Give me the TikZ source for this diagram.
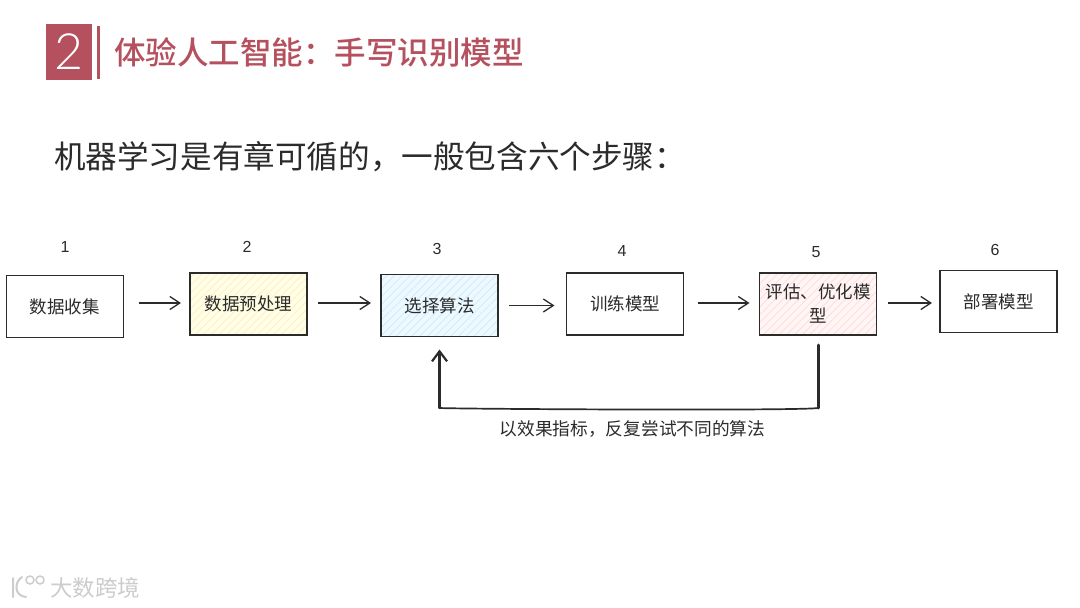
\documentclass[tikz,border=0pt]{standalone}
\usepackage{fontspec}
\setmainfont{Noto Sans CJK SC}
\newfontfamily\numfont{Liberation Sans}
\newfontfamily\chapterfont{Lato Light}
\newfontfamily\titlefont{Noto Sans CJK SC Medium}
\usetikzlibrary{positioning,arrows.meta,patterns.meta}
\definecolor{titlered}{HTML}{B5505F}
\definecolor{inkgrey}{HTML}{2B2B2B}

\begin{document}
\begin{tikzpicture}[x=1pt,y=-1pt,
  block/.style={draw=inkgrey,rectangle,line width=1.3pt,outer sep=0pt,minimum width=117pt,minimum height=62pt,inner sep=0pt,align=center,text=inkgrey,font=\fontsize{17.5}{24}\selectfont},
  hatched/.style n args={2}{line width=1.7pt,preaction={fill=#1},pattern={Lines[angle=45,distance=5.5pt,line width=.7pt]},pattern color=#2},
  steplabel/.style={text=inkgrey,inner sep=0pt,font=\numfont\fontsize{16}{16}\selectfont},
  arrow/.style={draw=inkgrey,line width=1.3pt,-{Straight Barb[length=10pt,width=13pt]},shorten <=11pt,shorten >=10pt}]
  \useasboundingbox (0,0) rectangle (1080,608);

  % header
  \node[fill=titlered,outer sep=0pt,minimum width=46pt,minimum height=56pt,inner sep=0pt,text=white,font=\chapterfont\fontsize{50}{50}\selectfont] (chapter) at (69,52) {2};
  \node[fill=titlered,outer sep=0pt,minimum width=3pt,minimum height=53pt,inner sep=0pt,right=5pt of chapter] (bar) {};
  \node[right=14pt of bar,inner sep=0pt,text=titlered,font=\titlefont\fontsize{31.5}{31.5}\selectfont] (title) {体验人工智能：手写识别模型};
  \node[anchor=west,inner sep=0pt,text=inkgrey,font=\fontsize{31.6}{31.6}\selectfont] (intro) at (54,157) {机器学习是有章可循的，一般包含六个步骤：};

  % the six boxes
  \node[block] (collect) at (65,306.5) {数据收集};
  \node[block,hatched={yellow!10}{yellow!45!orange!25},right=66.5pt of collect,yshift=2.5pt] (prepare) {数据预处理};
  \node[block,hatched={cyan!7}{cyan!60!blue!20},right=74pt of prepare,yshift=-1.5pt] (choose) {选择算法};
  \node[block,right=68.5pt of choose,yshift=1.5pt] (train) {训练模型};
  \node[block,hatched={red!4}{red!45!pink!25},right=76pt of train] (tune) {评估、优化模\\型};
  \node[block,right=63.5pt of tune,yshift=2.5pt] (deploy) {部署模型};

  \node[steplabel,above=23pt of collect] (one) {1};
  \node[steplabel,above=20.5pt of prepare,xshift=-1.5pt] (two) {2};
  \node[steplabel,above=20pt of choose,xshift=-2.5pt] (three) {3};
  \node[steplabel,above=16.5pt of train,xshift=-3pt] (four) {4};
  \node[steplabel,above=15.5pt of tune,xshift=-2pt] (five) {5};
  \node[steplabel,above=15pt of deploy,xshift=-3.5pt] (six) {6};

  \draw[arrow,shorten <=15pt,shorten >=9pt] (collect.east) ++(0,3.5pt) coordinate (c1) (c1) -- (c1 -| prepare.west);
  \draw[arrow] (prepare.east) ++(0,1pt) coordinate (c2) (c2) -- (c2 -| choose.west);
  \draw[arrow,shorten >=12pt] (choose.east) ++(0,0pt) coordinate (c3) (c3) -- (c3 -| train.west);
  \draw[arrow,shorten <=14pt] (train.east) ++(0,1pt) coordinate (c4) (c4) -- (c4 -| tune.west);
  \draw[arrow,shorten >=8pt] (tune.east) ++(0,1pt) coordinate (c5) (c5) -- (c5 -| deploy.west);

  % feedback loop
  \coordinate[below=73pt of tune.south] (turn_r);
  \coordinate (turn_l) at (turn_r -| choose);
  \draw[draw=inkgrey,line width=3pt,line cap=round,shorten <=10pt] (tune.south) -- (turn_r);
  \draw[draw=inkgrey,line width=1.7pt,line cap=round] (turn_r) .. controls ++(-20,3) and ++(20,1) .. (turn_l);
  \draw[draw=inkgrey,line width=2.2pt,line cap=round,-{Straight Barb[length=10pt,width=15pt]},shorten >=13pt] (turn_l) -- (choose.south);
  \node[below=12pt of turn_l,anchor=north west,inner sep=0pt,xshift=60pt,text=inkgrey,font=\fontsize{17.7}{17.7}\selectfont] (hint) {以效果指标，反复尝试不同的算法};

  % watermark
  \node[anchor=west,inner sep=0pt,text=black!20,font=\fontsize{22.5}{22.5}\selectfont] (mark) at (50,588) {大数跨境};
  \draw[black!20,line width=2pt,line cap=round] (13,578) -- (13,597) (22,577) .. controls (14,582) and (14,596) .. (26,597);
  \draw[black!20,line width=1.5pt] (30,580) circle (4) (40,580) circle (4);
\end{tikzpicture}
\end{document}
